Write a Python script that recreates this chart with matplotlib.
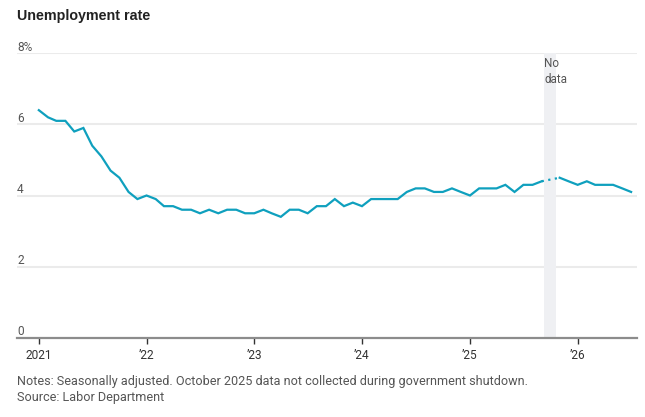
import pandas as pd
import numpy as np
import matplotlib
matplotlib.use("Agg")
import matplotlib.pyplot as plt
from matplotlib.transforms import blended_transform_factory

# monthly unemployment rate, Jan 2021 onward (Oct 2025 missing)
rate_2021 = [6.4, 6.2, 6.1, 6.1, 5.8, 5.9, 5.4, 5.1, 4.7, 4.5, 4.1, 3.9]
rate_2022 = [4.0, 3.9, 3.7, 3.7, 3.6, 3.6, 3.5, 3.6, 3.5, 3.6, 3.6, 3.5]
rate_2023 = [3.5, 3.6, 3.5, 3.4, 3.6, 3.6, 3.5, 3.7, 3.7, 3.9, 3.7, 3.8]
rate_2024 = [3.7, 3.9, 3.9, 3.9, 3.9, 4.1, 4.2, 4.2, 4.1, 4.1, 4.2, 4.1]
rate_2025 = [4.0, 4.2, 4.2, 4.2, 4.3, 4.1, 4.3, 4.3, 4.4, np.nan, 4.5, 4.4]
rate_2026 = [4.3, 4.4, 4.3, 4.3, 4.3, 4.2, 4.1]

rates = rate_2021 + rate_2022 + rate_2023 + rate_2024 + rate_2025 + rate_2026
months = pd.date_range("2021-01-01", periods=len(rates), freq="MS")

tick_years = [2021, 2022, 2023, 2024, 2025, 2026]
tick_labels = ["2021", "\u201922", "\u201923", "\u201924", "\u201925", "\u201926"]
y_ticks = [0, 2, 4, 6, 8]
y_labels = ["0", "2", "4", "6", "8%"]

no_data_start = pd.Timestamp("2025-09-09")
no_data_end = pd.Timestamp("2025-10-19")

line_color = "#0fa0be"
narrow = ["Roboto", "DejaVu Sans"]
regular = ["Liberation Sans", "DejaVu Sans"]

df = pd.DataFrame({"date": months, "rate": rates})

fig = plt.figure(figsize=(6.45, 4.17), dpi=100)
ax = fig.add_axes([17 / 645, (417 - 337.7) / 417, 620 / 645, (337.7 - 53.3) / 417])

ax.set_ylim(0, 8)
ax.set_xlim(pd.Timestamp("2020-10-19"), pd.Timestamp("2026-07-21"))

# gridlines
for y in y_ticks[1:]:
    ax.axhline(y, color="#ebebeb", lw=1.5, zorder=0)

ax.axvspan(no_data_start, no_data_end, color="#eff0f3", lw=0, zorder=0.5)
ax.text(no_data_start + pd.Timedelta(days=1), 7.9, "No\ndata", family=narrow,
        fontsize=8.4, color="#555555", va="top", ha="left", linespacing=1.3)

# solid parts, then dotted bridge over the missing month
ax.plot(df["date"], df["rate"], color=line_color, lw=1.6, solid_joinstyle="miter", zorder=3)
gap = df[(df["date"] >= "2025-09-01") & (df["date"] <= "2025-11-01")].dropna()
ax.plot(gap["date"], gap["rate"], color=line_color, lw=1.6, ls=(0, (1.0, 2.0)), zorder=3)

for side in ["top", "right", "left"]:
    ax.spines[side].set_visible(False)
ax.spines["bottom"].set_color("#8c8c8c")
ax.spines["bottom"].set_linewidth(1.6)

ax.set_yticks([])
trans = blended_transform_factory(ax.transAxes, ax.transData)
for y, lab in zip(y_ticks, y_labels):
    ax.text(0.0, y + 0.07, lab, transform=trans, family=narrow, fontsize=8.6,
            color="#555555", ha="left", va="baseline")

ax.set_xticks([pd.Timestamp(f"{yr}-01-01") for yr in tick_years])
ax.set_xticklabels(tick_labels, family=narrow, fontsize=8.6, color="#333333")
ax.tick_params(axis="x", direction="out", length=4, width=1, color="#333333", pad=4)

fig.text(17 / 645, 1 - 16 / 417, "Unemployment rate", family=regular, fontweight="bold",
         fontsize=10.3, color="#222222", va="center", ha="left")
fig.text(17 / 645, 1 - 381 / 417,
         "Notes: Seasonally adjusted. October 2025 data not collected during government shutdown.",
         family=narrow, fontsize=9.1, color="#555555", va="center", ha="left")
fig.text(17 / 645, 1 - 398 / 417, "Source: Labor Department",
         family=narrow, fontsize=9.1, color="#555555", va="center", ha="left")

fig.savefig("out.png", dpi=100)
